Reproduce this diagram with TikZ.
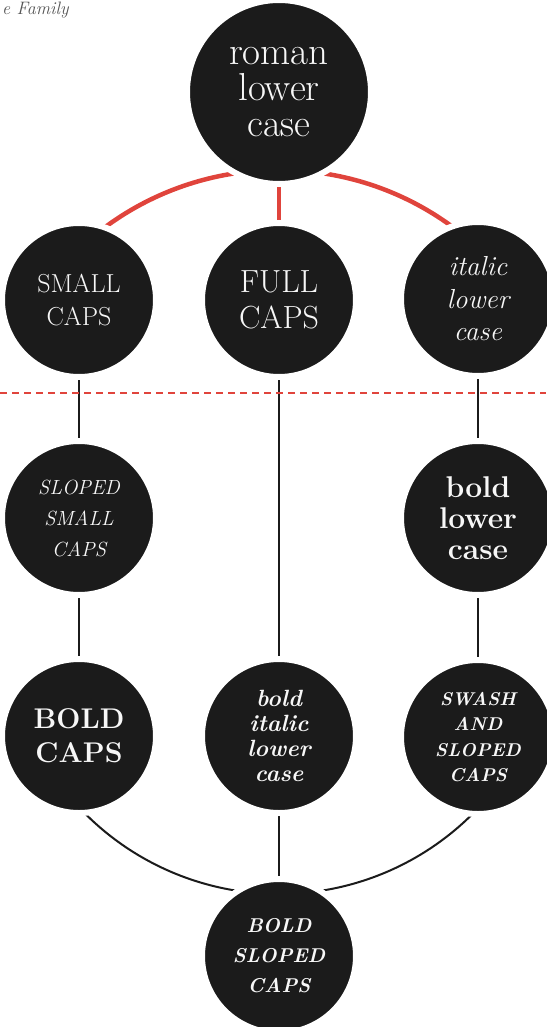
\documentclass[tikz,border=0pt]{standalone}
\usetikzlibrary{backgrounds}
\definecolor{ink}{HTML}{1B1B1B}
\definecolor{accent}{HTML}{E0443C}
\definecolor{captiongray}{HTML}{555555}
\definecolor{paper}{HTML}{F7F7F7}
\tikzset{
  bubble/.style={circle, fill=ink, draw=white, line width=6pt, inner sep=0pt,
    outer sep=0pt, text=paper, align=center, minimum size=154pt},
  bigbubble/.style={bubble, minimum size=184pt},
  blackrule/.style={draw=ink, line width=2pt},
  redrule/.style={draw=accent, line width=4.5pt},
  dashrule/.style={draw=accent, line width=1.2pt, dash pattern=on 7pt off 5pt},
}
\begin{document}
\begin{tikzpicture}[x=1pt, y=-1pt]
\useasboundingbox (0,0) rectangle (546,1027);

% caption in the upper left corner
\node[anchor=base west, inner sep=0pt, text=captiongray,
  font=\itshape\fontsize{18}{18}\selectfont] (caption) at (2,15) {e Family};

% the family tree of styles
\node[bigbubble, font=\fontsize{39}{36}\selectfont] (roman) at (279,92) {roman\\lower\\case};

\node[bubble, font=\fontsize{26}{33}\selectfont] (small) at (79,300) {SMALL\\CAPS};
\node[bubble, font=\fontsize{32}{36}\selectfont] (full) at (279,300) {FULL\\CAPS};
\node[bubble, font=\itshape\fontsize{27.5}{32.5}\selectfont] (italic) at (478,299) {italic\\lower\\case};

\node[bubble, font=\itshape\fontsize{20.5}{31}\selectfont] (sloped) at (79,518) {SLOPED\\SMALL\\CAPS};
\node[bubble, font=\bfseries\fontsize{30}{31}\selectfont] (bold) at (478,518) {bold\\lower\\case};

\node[bubble, font=\bfseries\fontsize{28.5}{34}\selectfont] (boldcaps) at (79,736) {BOLD\\CAPS};
\node[bubble, font=\bfseries\itshape\fontsize{23.5}{25}\selectfont] (bolditalic) at (279,736) {bold\\italic\\lower\\case};
\node[bubble, font=\bfseries\itshape\fontsize{18.5}{25.5}\selectfont] (swash) at (478,737) {SWASH\\AND\\SLOPED\\CAPS};

\node[bubble, font=\bfseries\itshape\fontsize{20}{30}\selectfont] (boldsloped) at (279,956) {BOLD\\SLOPED\\CAPS};

% centres of the two sweeping arcs and the ends of the dashed rule
\coordinate (upperhub) at (279,463);
\coordinate (lowerhub) at (279,620);
\coordinate (ruleL) at (0,393);
\coordinate (ruleR) at (546,393);

\begin{scope}[on background layer]
  % red links from the roman lower case
  \draw[redrule] ([shift={(225:293)}]upperhub) arc[start angle=225, end angle=315, radius=293];
  \draw[redrule] (roman) -- (full);
  % black links down each column
  \draw[blackrule] (small) -- (sloped);
  \draw[blackrule] (sloped) -- (boldcaps);
  \draw[blackrule] (full) -- (bolditalic);
  \draw[blackrule] (italic) -- (bold);
  \draw[blackrule] (bold) -- (swash);
  \draw[blackrule] (bolditalic) -- (boldsloped);
  % lower arc joining into the bold sloped caps
  \draw[blackrule] ([shift={(140:274)}]lowerhub) arc[start angle=140, end angle=40, radius=274];
\end{scope}

% dashed divider
\draw[dashrule] (ruleL) -- (ruleR);
\end{tikzpicture}
\end{document}
